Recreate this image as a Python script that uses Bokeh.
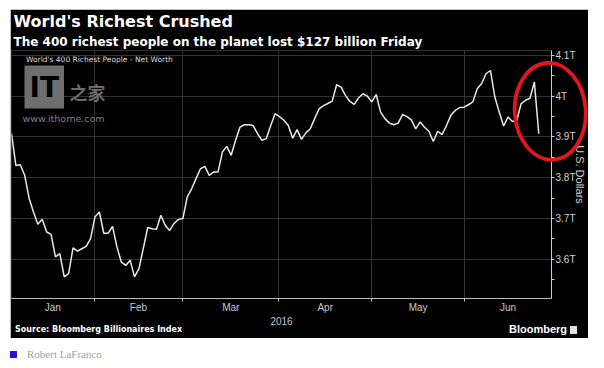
from bokeh.plotting import figure
from bokeh.models import (ColumnDataSource, FixedTicker, Title, Label, Legend, LegendItem,
                          Div, Range1d)
from bokeh.layouts import column
from bokeh.embed import file_html
from bokeh.resources import INLINE

# ---------------- data ----------------
# Net worth of the world's 400 richest people, trillions of US dollars,
# one value per trading day starting 2016-01-04 and ending 2016-06-24
net_worth = [
    3.908, 3.830, 3.832, 3.806, 3.750, 3.716, 3.686, 3.698, 3.667, 3.661,
    3.606, 3.614, 3.557, 3.565, 3.628, 3.620, 3.626, 3.632, 3.651, 3.704,
    3.716, 3.664, 3.664, 3.681, 3.630, 3.593, 3.585, 3.598, 3.557, 3.577,
    3.627, 3.678, 3.675, 3.674, 3.708, 3.683, 3.671, 3.688, 3.698, 3.700,
    3.753, 3.773, 3.798, 3.822, 3.828, 3.806, 3.814, 3.814, 3.863, 3.877,
    3.855, 3.892, 3.924, 3.930, 3.930, 3.928, 3.908, 3.892, 3.896, 3.928,
    3.957, 3.950, 3.941, 3.928, 3.897, 3.918, 3.894, 3.910, 3.920, 3.945,
    3.969, 3.977, 3.982, 3.988, 4.028, 4.022, 4.002, 3.987, 3.980, 3.996,
    4.006, 4.000, 3.986, 4.004, 3.961, 3.945, 3.934, 3.930, 3.934, 3.955,
    3.950, 3.942, 3.920, 3.937, 3.924, 3.914, 3.889, 3.914, 3.906, 3.928,
    3.953, 3.965, 3.972, 3.973, 3.979, 3.986, 4.018, 4.031, 4.055, 4.063,
    3.998, 3.961, 3.927, 3.949, 3.938, 3.941, 3.982, 3.990, 3.995, 4.035,
    3.908,
]
month_labels = ["Jan", "Feb", "Mar", "Apr", "May", "Jun"]
month_starts = [18.8, 39.0, 60.8, 82.0, 103.1]   # trading-day index where Feb..Jun begin
axis_end = 122.9                                  # trading-day index at right edge of chart
y_ticks = [3.6, 3.7, 3.8, 3.9, 4.0, 4.1]
y_tick_labels = ["3.6T", "3.7T", "3.8T", "3.9T", "4T", "4.1T"]
y_minor_ticks = [3.55, 3.65, 3.75, 3.85, 3.95, 4.05]
y_lo, y_hi = 3.504, 4.112

# hand-drawn highlight around the final drop (centre and half-extents, in data units)
highlight_center = (122.5, 3.9615)
highlight_radius = (8.07, 0.119)

title_text = "World's Richest Crushed"
subtitle_text = "The 400 richest people on the planet lost $127 billion Friday"
legend_text = "World's 400 Richest People - Net Worth"
source_text = "Source: Bloomberg Billionaires Index"
brand_text = "Bloomberg"
year_text = "2016"
author_text = "Robert LaFranco"

# ---------------- layout geometry ----------------
FIG_W, FIG_H = 578, 329
M_TOP, M_LEFT = 9, 10
B_LEFT, B_RIGHT, B_TOP, B_BOTTOM = 1, 36, 41, 40
frame_left = M_LEFT + B_LEFT
frame_top = M_TOP + B_TOP
frame_w = FIG_W - B_LEFT - B_RIGHT
frame_h = FIG_H - B_TOP - B_BOTTOM

# ---------------- derived ----------------
days = list(range(len(net_worth)))
src = ColumnDataSource(data=dict(day=days, worth=net_worth))
bounds = [0.0] + month_starts + [axis_end]
month_mids = [(a + b) / 2 for a, b in zip(bounds[:-1], bounds[1:])]

p = figure(width=FIG_W, height=FIG_H, x_range=Range1d(0, axis_end), y_range=Range1d(y_lo, y_hi),
           y_axis_location="right", output_backend="svg", toolbar_location=None, title=None,
           background_fill_color="black", border_fill_color="black",
           min_border_left=B_LEFT, min_border_right=B_RIGHT,
           min_border_top=B_TOP, min_border_bottom=B_BOTTOM)
p.margin = (M_TOP, 0, 0, M_LEFT)
p.outline_line_color = "#2e2e2e"

# titles
p.add_layout(Title(text=subtitle_text, text_font="DejaVu Sans", text_font_size="12px",
                   text_font_style="bold", text_color="white", align="left",
                   standoff=4, offset=2), "above")
p.add_layout(Title(text=title_text, text_font="DejaVu Sans", text_font_size="16px",
                   text_font_style="bold", text_color="white", align="left",
                   standoff=0, offset=2), "above")

# grids
p.xgrid.ticker = FixedTicker(ticks=month_starts)
p.xgrid.grid_line_color = "#333333"
p.ygrid.grid_line_color = "#333333"

# x axis
xa = p.xaxis[0]
xa.ticker = FixedTicker(ticks=month_mids, minor_ticks=month_starts)
xa.major_label_overrides = {m: lab for m, lab in zip(month_mids, month_labels)}
xa.major_tick_line_color = None
xa.major_tick_out = 0
xa.major_tick_in = 0
xa.minor_tick_in = 0
xa.minor_tick_out = 3
xa.minor_tick_line_color = "#bbbbbb"
xa.axis_line_color = "#bbbbbb"
xa.major_label_standoff = 0
xa.major_label_text_font = "Liberation Sans"
xa.major_label_text_font_size = "10px"
xa.major_label_text_color = "#c8c8c8"
xa.axis_label = year_text
xa.axis_label_text_font = "Liberation Sans"
xa.axis_label_text_font_size = "10px"
xa.axis_label_text_font_style = "normal"
xa.axis_label_text_color = "#c8c8c8"
xa.axis_label_standoff = 1

# y axis (right)
ya = p.yaxis[0]
ya.ticker = FixedTicker(ticks=y_ticks, minor_ticks=y_minor_ticks)
ya.major_label_overrides = {t: lab for t, lab in zip(y_ticks, y_tick_labels)}
ya.major_tick_in = 0
ya.major_tick_out = 3
ya.minor_tick_in = 0
ya.minor_tick_out = 3
ya.major_tick_line_color = "#cccccc"
ya.minor_tick_line_color = "#cccccc"
ya.axis_line_color = "#cccccc"
ya.major_label_standoff = 1
ya.major_label_text_font = "Liberation Sans"
ya.major_label_text_font_size = "10px"
ya.major_label_text_color = "#d0d0d0"
ya.axis_label = "U.S. Dollars"
ya.axis_label_text_font = "Liberation Sans"
ya.axis_label_text_font_size = "11px"
ya.axis_label_text_font_style = "normal"
ya.axis_label_text_color = "#d0d0d0"
ya.axis_label_standoff = -5

# watermark
p.add_layout(Label(x=13, y=190, x_units="screen", y_units="screen", text="IT",
                   text_font="DejaVu Sans", text_font_size="28px", text_font_style="bold",
                   text_color="black", background_fill_color="#6e6e6e", padding=5,
                   text_baseline="bottom"))
p.add_layout(Label(x=58, y=207, x_units="screen", y_units="screen", text="之家",
                   text_font="Noto Sans CJK SC", text_font_size="18px", text_font_style="bold",
                   text_color="#6a6a6a", text_baseline="middle"))
p.add_layout(Label(x=11, y=180, x_units="screen", y_units="screen", text="www.ithome.com",
                   text_font="DejaVu Sans", text_font_size="9.5px",
                   text_color="#808080", text_baseline="middle"))

# data line
p.line(x="day", y="worth", source=src, line_color="#e8e8e8", line_width=1.5)
sq = p.quad(left=[], right=[], top=[], bottom=[], fill_color="white", line_color=None)
legend = Legend(items=[LegendItem(label=legend_text, renderers=[sq])], location="top_left",
                glyph_width=8, glyph_height=8, label_standoff=2, padding=0, margin=5,
                background_fill_alpha=0, border_line_alpha=0,
                label_text_font="DejaVu Sans", label_text_font_size="7.5px",
                label_text_color="#dddddd", label_height=9)
p.add_layout(legend)

# red highlight ellipse: drawn as an overlay because it crosses the axis (outside the frame)
hx = frame_left + highlight_center[0] / axis_end * frame_w
hy = frame_top + (y_hi - highlight_center[1]) / (y_hi - y_lo) * frame_h
hrx = highlight_radius[0] / axis_end * frame_w
hry = highlight_radius[1] / (y_hi - y_lo) * frame_h
pad = 6
box_left, box_top = int(hx - hrx - pad), int(hy - hry - pad)
box_w, box_h = int(2 * (hrx + pad)), int(2 * (hry + pad))
ex, ey = hx - box_left, hy - box_top
ring = Div(text=(f'<svg width="{box_w}" height="{box_h}" xmlns="http://www.w3.org/2000/svg">'
                 f'<ellipse cx="{ex:.1f}" cy="{ey:.1f}" rx="{hrx:.1f}" ry="{hry:.1f}" '
                 f'transform="rotate(-4 {ex:.1f} {ey:.1f})" fill="none" '
                 f'stroke="#e3161e" stroke-width="3.8"/></svg>'),
           width=box_w, height=box_h,
           margin=(box_top - (M_TOP + FIG_H), 0, (M_TOP + FIG_H) - (box_top + box_h), box_left))

# footer row overlaid on the bottom of the black panel
footer = Div(text=(
    '<div style="display:flex;justify-content:space-between;align-items:center;'
    'width:570px;height:12px;padding:0 3px 0 5px;">'
    '<span style="font-family:\'DejaVu Sans\';font-weight:bold;font-size:8px;color:#ffffff;">'
    + source_text + '</span>'
    '<span style="display:flex;align-items:center;">'
    '<span style="font-family:\'Liberation Sans\';font-weight:bold;font-size:11px;color:#ffffff;">'
    + brand_text + '</span>'
    '<span style="display:inline-block;width:7px;height:8px;background:#e0e0e0;margin-left:3px;"></span>'
    '</span></div>'),
    width=578, height=12, margin=(-18, 0, 0, 10))

note = Div(text=('<div style="display:flex;align-items:center;">'
                 '<span style="display:inline-block;width:7px;height:7px;background:#2613d9;"></span>'
                 '<span style="margin-left:10px;font-family:\'Liberation Serif\';font-size:11px;'
                 'color:#a0a0a0;">' + author_text + '</span></div>'),
           width=300, height=16, margin=(14, 0, 0, 10))

layout = column(p, ring, footer, note)
open("out.html", "w").write(file_html(layout, INLINE))
